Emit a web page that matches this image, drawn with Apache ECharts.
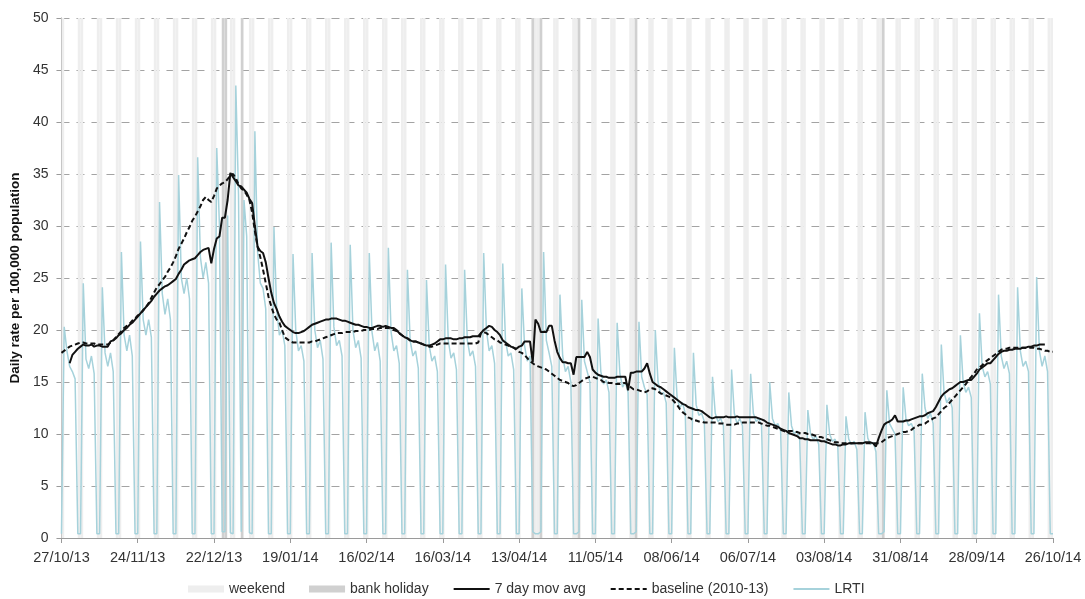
<!DOCTYPE html>
<html>
<head>
<meta charset="utf-8">
<script src="https://cdn.jsdelivr.net/npm/echarts@6/dist/echarts.min.js"></script>
<style>
html,body{margin:0;padding:0;background:#fff;}
#chart{width:1085px;height:599px;}
</style>
</head>
<body>
<div id="chart"></div>
<script>
// ---- data ----
const startDate = '2013-10-27';   // first day (Sunday)
const dayCount = 365;             // 27/10/13 .. 26/10/14
const bankHolidays = ['25/12/13','26/12/13','01/01/14','18/04/14','21/04/14','05/05/14','26/05/14','25/08/14'];

// LRTI daily rate, one row per week (Sun..Sat)
const lrti = [
  0.4,20.3,18.0,16.5,16.0,15.3,0.4,
  0.4,24.5,17.2,16.3,17.5,15.8,0.4,
  0.4,24.1,17.8,16.5,17.8,16.0,0.4,
  0.4,27.5,19.5,18.0,19.5,17.5,0.4,
  0.4,28.5,21.0,19.5,21.0,19.3,0.4,
  0.4,32.3,23.5,21.5,23.0,21.0,0.4,
  0.4,34.9,25.0,23.5,25.0,23.0,0.4,
  0.4,36.6,27.0,25.0,26.5,24.5,0.4,
  0.4,37.5,30.0,0.6,0.6,31.0,0.5,
  0.4,43.5,33.0,0.6,32.5,29.0,0.5,
  0.4,39.1,27.5,24.5,24.0,22.0,0.4,
  0.4,29.9,22.0,19.5,20.0,18.5,0.4,
  0.4,27.3,20.0,18.0,18.5,17.0,0.4,
  0.4,27.4,20.0,18.3,19.0,17.2,0.4,
  0.4,28.4,20.3,18.5,19.0,17.5,0.4,
  0.4,28.2,20.0,18.3,19.0,17.3,0.4,
  0.4,27.4,19.8,18.0,18.8,17.0,0.4,
  0.4,27.9,19.8,18.0,18.5,16.8,0.4,
  0.4,25.8,19.0,17.5,18.0,16.3,0.4,
  0.4,24.8,18.5,17.0,17.5,16.0,0.4,
  0.4,26.3,19.0,17.3,17.8,16.2,0.4,
  0.4,25.8,19.0,17.5,18.0,16.5,0.4,
  0.4,27.4,20.0,18.0,18.5,16.8,0.4,
  0.4,26.4,19.0,17.5,17.8,16.2,0.4,
  0.4,24.0,18.5,17.0,17.5,0.6,0.4,
  0.4,0.6,27.5,19.0,17.8,16.5,0.4,
  0.4,23.4,17.5,16.0,16.5,15.0,0.4,
  0.4,0.6,22.9,17.0,16.0,15.0,0.4,
  0.4,21.1,16.0,14.8,15.2,14.0,0.4,
  0.4,20.7,15.8,14.5,15.0,14.0,0.4,
  0.4,0.6,20.8,15.5,14.5,13.8,0.4,
  0.4,20.0,15.0,13.8,14.0,13.0,0.4,
  0.4,18.3,13.5,12.5,13.0,12.0,0.4,
  0.4,17.8,12.8,11.8,12.0,11.2,0.4,
  0.4,15.5,12.0,11.2,11.5,10.8,0.4,
  0.4,16.2,12.0,11.0,11.5,10.8,0.4,
  0.4,15.8,12.0,11.2,11.5,10.8,0.4,
  0.4,15.0,11.5,10.8,11.0,10.3,0.4,
  0.4,14.0,10.8,10.0,10.3,9.5,0.4,
  0.4,12.3,10.0,9.5,9.8,9.0,0.4,
  0.4,12.8,10.0,9.3,9.5,8.8,0.4,
  0.4,11.7,9.5,9.0,9.3,8.5,0.4,
  0.4,12.1,9.6,9.0,9.2,8.3,0.4,
  0.4,0.6,14.2,11.0,10.5,10.0,0.4,
  0.4,14.5,11.5,10.8,11.0,10.3,0.4,
  0.4,15.8,12.5,11.5,12.0,11.0,0.4,
  0.4,18.6,14.0,13.0,13.5,12.5,0.4,
  0.4,19.5,15.0,14.0,14.5,13.5,0.4,
  0.4,21.6,16.5,15.5,16.0,14.8,0.4,
  0.4,23.4,17.5,16.3,17.0,15.8,0.4,
  0.4,24.1,18.0,16.5,17.0,16.0,0.4,
  0.4,25.1,18.0,16.5,17.5,16.0,0.4,
  0.4
];

// 7 day moving average (centred), one row per week
const movAvg = [
  null,null,null,16.8,17.6,17.9,18.2,
  18.4,18.6,18.5,18.5,18.6,18.4,18.5,
  18.5,18.4,18.4,18.4,18.9,19.0,19.2,
  19.5,19.7,20.0,20.2,20.5,20.7,21.0,
  21.3,21.6,21.9,22.2,22.5,22.8,23.2,
  23.5,23.8,24.0,24.2,24.3,24.5,24.7,
  24.9,25.4,25.8,26.3,26.5,26.7,26.8,
  26.9,27.2,27.5,27.7,27.8,27.9,26.4,
  27.8,28.8,29.0,30.8,30.8,32.5,35.1,
  34.7,34.3,33.9,33.8,33.5,33.2,32.6,
  32.2,30.0,28.0,27.6,27.4,26.5,25.0,
  23.6,22.6,22.0,21.3,20.8,20.4,20.2,
  20.0,19.8,19.7,19.7,19.8,19.9,20.1,
  20.3,20.5,20.6,20.7,20.8,20.9,21.0,
  21.0,21.1,21.1,21.1,21.0,20.9,20.9,
  20.8,20.7,20.6,20.5,20.5,20.4,20.3,
  20.3,20.2,20.2,20.3,20.4,20.4,20.3,
  20.4,20.3,20.2,20.2,20.0,19.7,19.5,
  19.3,19.2,19.0,18.9,18.9,18.8,18.7,
  18.6,18.5,18.5,18.6,18.7,18.9,19.1,
  19.1,19.2,19.2,19.2,19.1,19.1,19.2,
  19.2,19.3,19.3,19.3,19.4,19.4,19.4,
  19.7,20.0,20.2,20.4,20.3,20.0,19.8,
  19.5,19.0,18.8,18.6,18.4,18.3,18.2,
  18.4,18.5,18.9,18.9,18.9,16.9,21.0,
  20.6,19.8,19.8,19.8,20.4,20.4,19.0,
  17.9,17.3,16.9,16.9,16.8,16.8,15.7,
  17.4,17.4,17.4,17.4,17.9,17.4,16.2,
  15.9,15.7,15.6,15.5,15.5,15.4,15.4,
  15.4,15.5,15.5,15.5,15.5,14.2,15.9,
  15.9,16.0,16.0,16.0,16.3,16.8,15.8,
  15.0,14.8,14.6,14.5,14.3,14.1,13.9,
  13.7,13.5,13.3,13.1,12.9,12.8,12.6,
  12.5,12.4,12.3,12.3,12.2,12.0,11.8,
  11.6,11.5,11.6,11.6,11.6,11.6,11.7,
  11.6,11.6,11.6,11.7,11.6,11.6,11.6,
  11.6,11.6,11.6,11.6,11.5,11.4,11.3,
  11.1,11.0,10.9,10.8,10.7,10.5,10.4,
  10.3,10.1,10.0,9.9,9.8,9.6,9.6,
  9.5,9.5,9.4,9.4,9.4,9.4,9.3,
  9.3,9.2,9.1,9.0,9.0,8.9,8.9,
  9.0,9.0,9.1,9.1,9.1,9.1,9.1,
  9.1,9.2,9.2,9.2,9.1,8.8,9.6,
  10.3,10.9,11.1,11.2,11.4,11.8,11.2,
  11.2,11.2,11.3,11.3,11.4,11.5,11.6,
  11.7,11.7,11.8,12.0,12.1,12.2,12.6,
  13.1,13.6,13.9,14.1,14.3,14.4,14.6,
  14.8,15.0,15.0,15.1,15.2,15.2,15.5,
  15.8,16.2,16.4,16.6,16.8,16.8,17.1,
  17.4,17.7,17.9,18.0,18.0,18.1,18.1,
  18.2,18.2,18.2,18.3,18.3,18.4,18.4,
  18.5,18.5,18.6,18.6,18.6,null,null,
  null
];

// baseline (2010-13), one row per week
const baseline = [
  17.8,18.0,18.2,18.4,18.5,18.6,18.7,
  18.8,18.8,18.7,18.7,18.7,18.7,18.6,
  18.6,18.6,18.6,18.6,18.8,19.0,19.3,
  19.6,19.9,20.2,20.4,20.6,20.9,21.1,
  21.4,21.6,21.9,22.2,22.6,23.1,23.6,
  24.1,24.4,24.8,25.1,25.6,26.0,26.5,
  27.1,27.8,28.3,28.8,29.4,29.9,30.5,
  30.9,31.4,31.9,32.5,32.8,32.5,32.3,
  32.9,33.6,33.9,34.1,34.2,34.5,34.9,
  35.0,34.6,34.0,33.6,33.4,33.0,32.5,
  31.3,29.5,28.0,27.0,25.8,24.5,23.2,
  22.3,21.5,21.0,20.7,20.0,19.3,19.1,
  18.9,18.8,18.8,18.8,18.8,18.8,18.8,
  18.8,18.9,18.9,19.0,19.1,19.2,19.3,
  19.4,19.5,19.6,19.7,19.7,19.7,19.8,
  19.8,19.8,19.8,19.9,19.9,19.9,20.0,
  20.0,20.0,20.1,20.1,20.1,20.2,20.2,
  20.2,20.2,20.1,20.0,19.9,19.7,19.5,
  19.3,19.2,19.0,18.9,18.9,18.8,18.7,
  18.6,18.5,18.4,18.4,18.5,18.6,18.7,
  18.7,18.7,18.7,18.7,18.7,18.7,18.7,
  18.7,18.7,18.7,18.7,18.7,18.7,18.8,
  19.7,19.8,19.7,19.5,19.3,19.1,19.0,
  18.8,18.7,18.6,18.5,18.4,18.3,18.1,
  17.9,17.8,17.6,17.3,17.0,16.8,16.6,
  16.5,16.4,16.3,16.2,16.0,15.8,15.6,
  15.4,15.2,15.1,15.0,14.9,14.7,14.6,
  14.7,14.9,15.1,15.3,15.4,15.5,15.5,
  15.4,15.3,15.2,15.0,15.0,14.9,14.9,
  14.8,14.8,14.8,14.9,14.9,14.7,14.5,
  14.3,14.3,14.2,14.1,14.0,14.1,14.3,
  14.4,14.3,14.1,13.9,13.8,13.7,13.6,
  13.4,13.1,12.8,12.4,12.1,11.9,11.6,
  11.5,11.3,11.3,11.2,11.2,11.1,11.1,
  11.1,11.1,11.1,11.0,11.0,11.0,10.9,
  10.9,10.9,10.9,11.0,11.0,11.1,11.1,
  11.1,11.1,11.1,11.1,11.1,11.0,10.9,
  10.8,10.8,10.7,10.6,10.5,10.4,10.3,
  10.2,10.3,10.3,10.2,10.2,10.1,10.1,
  10.1,10.0,10.0,9.9,9.8,9.7,9.7,
  9.6,9.5,9.4,9.3,9.2,9.2,9.1,
  9.1,9.1,9.1,9.1,9.1,9.1,9.1,
  9.1,9.1,9.1,9.1,9.1,9.1,9.1,
  9.2,9.4,9.6,9.7,9.8,9.9,10.0,
  10.1,10.2,10.2,10.3,10.4,10.6,10.7,
  10.9,10.9,11.0,11.2,11.3,11.5,11.6,
  11.9,12.2,12.5,12.7,13.0,13.3,13.6,
  13.9,14.2,14.5,14.8,15.2,15.5,15.8,
  16.2,16.4,16.6,16.9,17.1,17.3,17.5,
  17.7,17.9,18.1,18.2,18.2,18.3,18.3,
  18.3,18.3,18.3,18.3,18.3,18.3,18.3,
  18.3,18.2,18.2,18.1,18.0,18.0,17.9,
  17.9
];

// ---- build categories (dd/mm/yy) ----
function pad(n){return (n<10?'0':'')+n;}
const days = [];
const weekendFlag = [];
{
  const t0 = Date.UTC(2013,9,27);
  for (let i=0;i<dayCount;i++){
    const d = new Date(t0 + i*86400000);
    days.push(pad(d.getUTCDate())+'/'+pad(d.getUTCMonth()+1)+'/'+String(d.getUTCFullYear()).slice(2));
    const wd = d.getUTCDay();
    weekendFlag.push(wd===0 || wd===6);
  }
}
const weekendBars = days.map((d,i)=> weekendFlag[i] ? 50 : '-');
const holidayBars = days.map(d=> bankHolidays.indexOf(d)>=0 ? 50 : '-');

const chart = echarts.init(document.getElementById('chart'), null, {renderer:'canvas'});
const font = 'Liberation Sans, Arial, sans-serif';
const noSym = {opacity:0};
chart.setOption({
  animation:false,
  backgroundColor:'#ffffff',
  textStyle:{fontFamily:font},
  grid:{left:58,right:32,top:18,bottom:61,containLabel:false},
  legend:{
    left:183, top:577,
    itemWidth:36, itemHeight:7, itemGap:24,
    textStyle:{fontSize:14,color:'#333',fontFamily:font},
    data:[
      {name:'weekend',icon:'rect'},
      {name:'bank holiday',icon:'rect'},
      {name:'7 day mov avg',itemStyle:noSym},
      {name:'baseline (2010-13)',itemStyle:noSym},
      {name:'LRTI',itemStyle:noSym}
    ]
  },
  xAxis:[
    {
      type:'category', data:days, boundaryGap:false,
      axisLine:{lineStyle:{color:'#9a9a9a',width:1}},
      axisTick:{interval:27,length:5,lineStyle:{color:'#9a9a9a'}},
      axisLabel:{interval:27,color:'#333',fontSize:14.5,margin:12,fontFamily:font},
      splitLine:{show:false}
    },
    {
      type:'category', data:days, boundaryGap:true, show:false
    }
  ],
  yAxis:{
    type:'value', min:0, max:50, interval:5,
    name:'Daily rate per 100,000 population',
    nameLocation:'middle', nameGap:26,
    nameTextStyle:{fontWeight:'bold',fontSize:13.5,color:'#111',fontFamily:font},
    axisLine:{show:true,lineStyle:{color:'#9a9a9a'}},
    axisTick:{show:true,length:5,lineStyle:{color:'#9a9a9a'}},
    axisLabel:{color:'#333',fontSize:14,margin:13,fontFamily:font},
    splitLine:{show:true,lineStyle:{color:'#a3a3a3',type:[8,7],width:1}}
  },
  series:[
    {name:'weekend',type:'bar',xAxisIndex:1,data:weekendBars,barWidth:'100%',barGap:'-100%',
     itemStyle:{color:'#eeeeee'},silent:true,z:1},
    {name:'bank holiday',type:'bar',xAxisIndex:1,data:holidayBars,barWidth:'100%',barGap:'-100%',
     itemStyle:{color:'#d0d0d0'},silent:true,z:1},
    {name:'LRTI',type:'line',data:lrti,symbol:'none',showSymbol:false,
     lineStyle:{color:'#a6d2db',width:1.5},itemStyle:{color:'#a6d2db'},z:3},
    {name:'baseline (2010-13)',type:'line',data:baseline,symbol:'none',showSymbol:false,
     lineStyle:{color:'#111',width:2,type:[5,3]},itemStyle:{color:'#111'},z:4},
    {name:'7 day mov avg',type:'line',data:movAvg,symbol:'none',showSymbol:false,connectNulls:false,
     lineStyle:{color:'#111',width:2},itemStyle:{color:'#111'},z:5}
  ]
});
</script>
</body>
</html>
